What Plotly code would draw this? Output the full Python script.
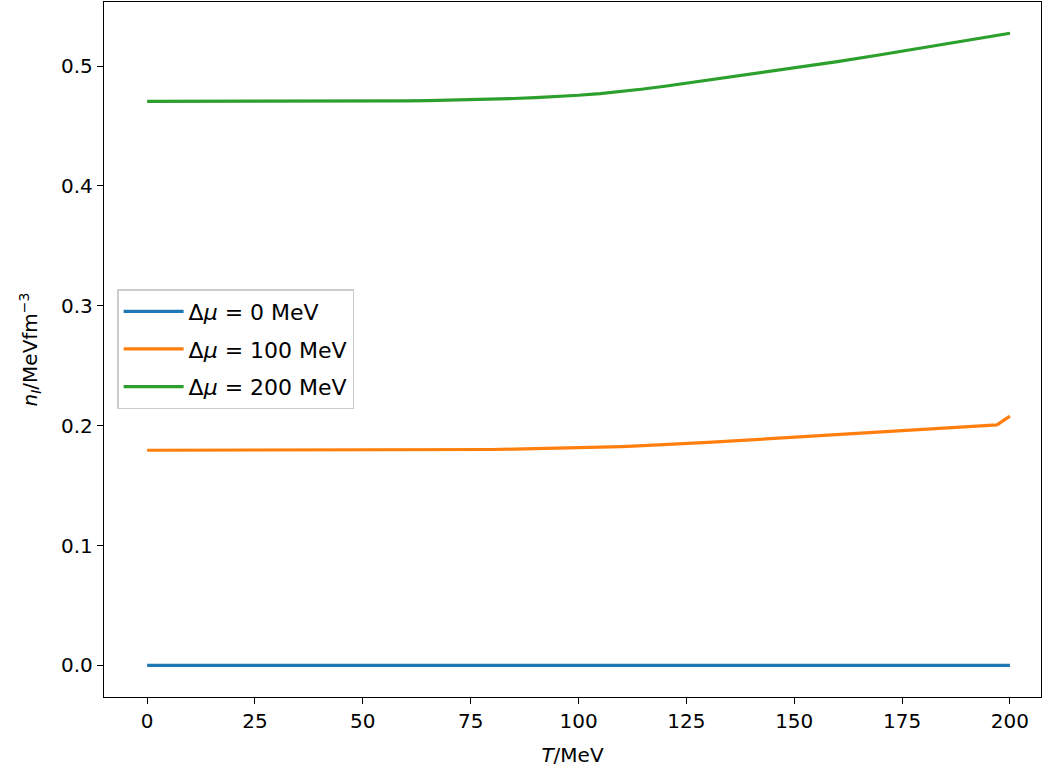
import plotly.graph_objects as go

T = [0, 20, 40, 50, 55, 60, 65, 70, 75, 80, 85, 90, 95, 100, 105, 110, 115, 120, 125, 130, 140, 150,
     160, 170, 180, 190, 197, 200]
n_0 = [0.0] * len(T)
n_100 = [0.1795, 0.1795, 0.1795, 0.1795, 0.1795, 0.1796, 0.1797, 0.1798, 0.1799, 0.1801, 0.1804, 0.1807,
         0.1810, 0.1814, 0.1819, 0.1825, 0.1833, 0.1841, 0.1851, 0.1861, 0.1882, 0.1904,
         0.1927, 0.1950, 0.1971, 0.1991, 0.2006, 0.2080]
n_200 = [0.4705, 0.4705, 0.4706, 0.4707, 0.4708, 0.4710, 0.4712, 0.4715, 0.4720, 0.4725, 0.4730, 0.4737,
         0.4746, 0.4757, 0.4771, 0.4789, 0.4809, 0.4832, 0.4857, 0.4884, 0.4933, 0.4985,
         0.5038, 0.5095, 0.5154, 0.5214, 0.5256, 0.5274]
labels = ["Δ<i>μ</i> = 0 MeV", "Δ<i>μ</i> = 100 MeV", "Δ<i>μ</i> = 200 MeV"]
colors = ["#1f77b4", "#ff7f0e", "#2ca02c"]
x_ticks = [0, 25, 50, 75, 100, 125, 150, 175, 200]
y_ticks = [0.0, 0.1, 0.2, 0.3, 0.4, 0.5]

fig = go.Figure()
for i, (ys, lab, col) in enumerate(zip([n_0, n_100, n_200], labels, colors)):
    fig.add_trace(go.Scatter(x=T, y=ys, mode="lines", name=lab, legendgroup=f"g{i}",
                             line=dict(color=col, width=3.2)))

axis_common = dict(showgrid=False, zeroline=False, showline=True, linecolor="black", linewidth=1.3,
                   mirror=True, ticks="outside", ticklen=6, tickwidth=1.3, tickcolor="black",
                   automargin=False,
                   tickfont=dict(family="DejaVu Sans", size=20, color="black"))
fig.update_xaxes(range=[-10, 207.2], tickvals=x_ticks,
                 title=dict(text="<i>T</i>/MeV", font=dict(family="DejaVu Sans", size=20, color="black"), standoff=15),
                 **axis_common)
fig.update_yaxes(range=[-0.0264, 0.5535], tickvals=y_ticks, tickformat=".1f", **axis_common)
fig.add_annotation(text="<i>n<sub>I</sub></i>/MeVfm<sup>−3</sup>", xref="paper", yref="paper",
                   x=(30 - 104) / 937, y=0.5, textangle=-90, showarrow=False,
                   xanchor="center", yanchor="middle",
                   font=dict(family="DejaVu Sans", size=20, color="black"))
fig.update_layout(
    width=1049, height=771,
    margin=dict(l=104, r=8, t=2, b=74, autoexpand=False),
    plot_bgcolor="white", paper_bgcolor="white",
    font=dict(family="DejaVu Sans", color="black"),
    legend=dict(x=0.014, y=0.587, xanchor="left", yanchor="top",
                font=dict(family="DejaVu Sans", size=22, color="black"),
                bgcolor="rgba(255,255,255,0.8)", bordercolor="#cccccc", borderwidth=1.5,
                itemwidth=60,
                traceorder="grouped", tracegroupgap=6),
    showlegend=True,
)
fig.write_html("out.html", config={"displayModeBar": False},
               post_script="document.body.style.margin='0';document.body.style.overflow='hidden';")
